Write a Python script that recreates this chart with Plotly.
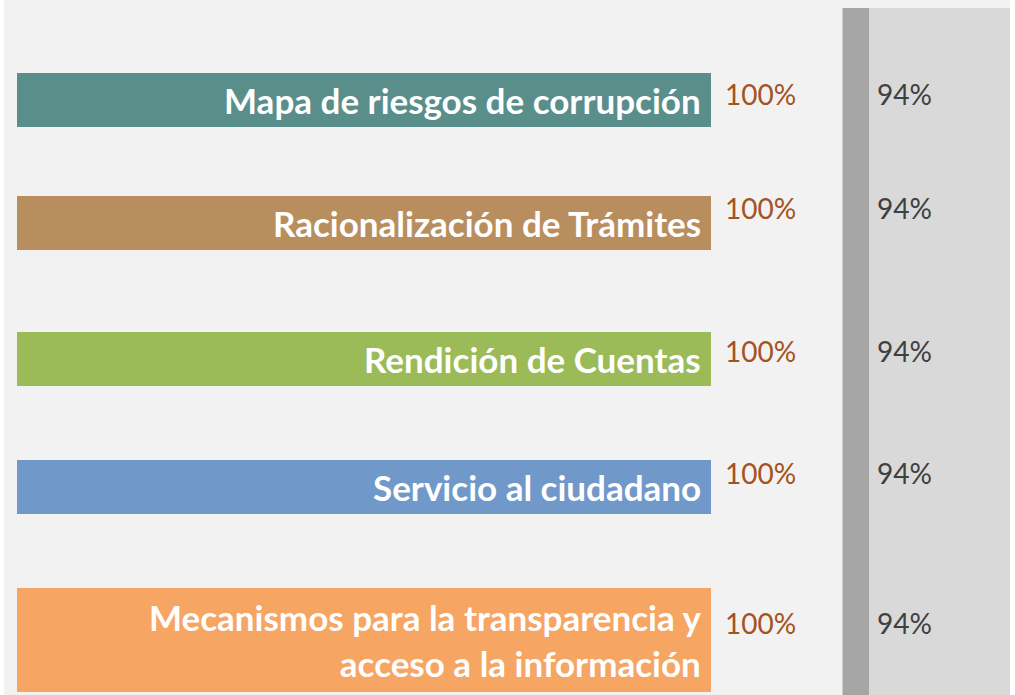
import plotly.graph_objects as go

# ---- data ----
categories = [
    "Mapa de riesgos de corrupción",
    "Racionalización de Trámites",
    "Rendición de Cuentas",
    "Servicio al ciudadano",
    "Mecanismos para la transparencia y<br>acceso a la información",
]
avance = [100, 100, 100, 100, 100]
avance_labels = ["100%", "100%", "100%", "100%", "100%"]
total = [94, 94, 94, 94, 94]
total_labels = ["94%", "94%", "94%", "94%", "94%"]
bar_colors = ["#5a8e8b", "#b98e5f", "#9bbb59", "#7099ca", "#f6a563"]

# ---- layout constants (pixel-like y positions) ----
W, H = 1015, 695
ML, MR = 4, 5
bar_centers = [100, 222.5, 358.5, 486.5, 640]
bar_thick = [54, 54, 54, 54, 104]
label_y = [94, 208, 351, 473, 623]

plot_w = W - ML - MR
px_per_unit = 6.94
x_lo = -(17 - ML) / px_per_unit
x_hi = x_lo + plot_w / px_per_unit

fig = go.Figure()
fig.add_trace(go.Bar(
    x=avance, y=bar_centers, orientation="h", width=bar_thick,
    marker=dict(color=bar_colors, line=dict(width=0)),
    hoverinfo="skip",
))

def px_to_paper_x(px):
    return (px - ML) / plot_w

# gray strips (decoration)
fig.add_shape(type="rect", xref="paper", yref="paper",
              x0=px_to_paper_x(842.5), x1=px_to_paper_x(869),
              y0=0, y1=1 - 8 / H, fillcolor="#a6a6a6", line_width=0, layer="below")
fig.add_shape(type="rect", xref="paper", yref="paper",
              x0=px_to_paper_x(869), x1=1.0,
              y0=0, y1=1 - 8 / H, fillcolor="#d9d9d9", line_width=0, layer="below")

for yc, v, cat in zip(bar_centers, avance, categories):
    fig.add_annotation(x=v, y=yc, xref="x", yref="y", text=cat, showarrow=False,
                       xanchor="right", yanchor="middle", xshift=-8, align="right",
                       font=dict(family="Lato", size=35, color="white", weight="bold"))

for yv, v, lab, tl in zip(label_y, avance, avance_labels, total_labels):
    fig.add_annotation(x=v, y=yv, xref="x", yref="y", text=lab, showarrow=False,
                       xanchor="left", yanchor="middle", xshift=12,
                       font=dict(family="Lato", size=28, color="#a5521e"))
    fig.add_annotation(x=px_to_paper_x(875), y=yv, xref="paper", yref="y", text=tl,
                       showarrow=False, xanchor="left", yanchor="middle",
                       font=dict(family="Lato", size=28, color="#404040"))

fig.update_layout(
    width=W, height=H,
    margin=dict(l=ML, r=MR, t=0, b=0, pad=0),
    paper_bgcolor="white", plot_bgcolor="#f2f2f2",
    showlegend=False, bargap=0,
    xaxis=dict(range=[x_lo, x_hi], visible=False, fixedrange=True),
    yaxis=dict(range=[H, 0], visible=False, fixedrange=True),
)
fig.write_html("out.html", config={"displayModeBar": False},
               post_script="document.body.style.margin='0';")
